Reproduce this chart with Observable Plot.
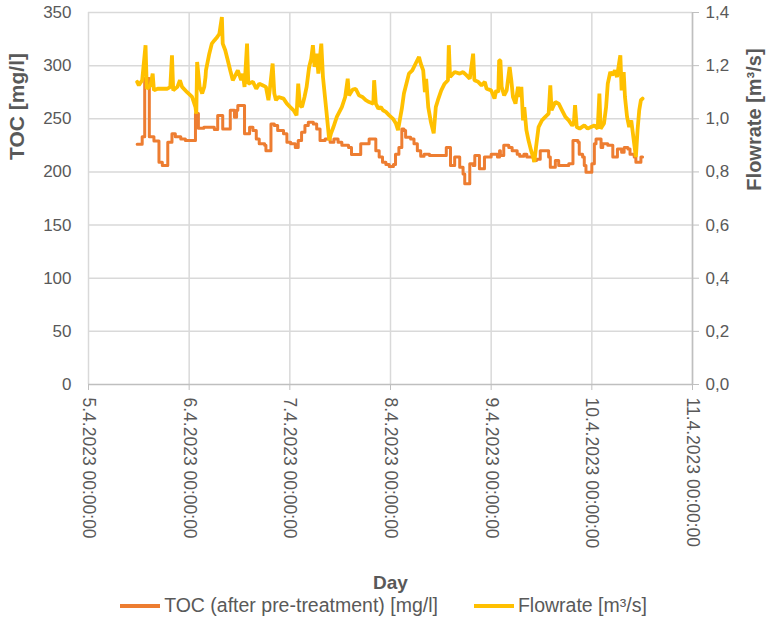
<!DOCTYPE html>
<html>
<head>
<meta charset="utf-8">
<script src="https://cdn.jsdelivr.net/npm/d3@7"></script>
<script src="https://cdn.jsdelivr.net/npm/@observablehq/plot@0.6"></script>
<style>
  html, body { margin: 0; padding: 0; background: #fff; }
  #chart { width: 767px; font-family: "Liberation Sans", Arial, sans-serif; }
  .legend { display: flex; justify-content: center; align-items: center; height: 31px; font-size: 19.5px; color: #595959; gap: 36px; margin-left: 0px; }
  .legend .item { display: flex; align-items: center; }
  .legend .sw { display: inline-block; width: 40px; height: 4px; margin-right: 4px; }
</style>
</head>
<body>
<div id="chart"></div>
<script>
// ---- Data (hours after 5.4.2023 00:00:00) ----
const tocHours = [11.6, 12.8, 13.4, 14.5, 15.6, 16.8, 17.6, 18.9, 19.9, 20.7, 22.0, 23.1, 25.5, 26.2, 27.5,
  29.5, 30.0, 30.8, 32.0, 33.8, 34.8, 35.3, 35.6, 37.2, 38.4, 39.2, 40.0, 40.7, 42.0, 42.3, 43.5, 44.3, 45.1,
  46.5, 47.3, 48.2, 49.3, 50.0, 50.8, 51.6, 52.4, 53.6, 54.4, 55.2, 56.4, 57.6, 58.5, 59.5, 60.4, 62.0, 62.7,
  64.9, 66.9, 68.5, 69.3, 70.1, 70.9, 71.7, 72.7, 73.2, 74.0, 74.7, 75.2, 75.6, 76.8, 77.6, 78.4, 79.2, 80.0,
  81.3, 85.3, 86.3, 87.3, 88.5, 89.3, 89.7, 90.9, 91.7, 92.1, 93.2, 94.4, 96.0, 97.5, 98.0, 98.2, 99.0, 100.2,
  101.0, 102.2, 102.8, 103.8, 104.5, 106.1, 106.8, 107.7, 109.7, 110.1, 111.3, 112.1, 114.5, 115.5, 116.7,
  117.0, 117.8, 118.2, 118.6, 120.0, 120.6, 121.0, 122.2, 122.6, 123.8, 125.0, 126.1, 127.1, 127.7, 128.6,
  129.1, 130.1, 130.5, 131.7, 132.1];
const tocValues = [226, 233, 288, 233, 229, 209, 206, 228, 236, 233, 231, 229.5, 255, 241, 242,
  242, 240, 253, 240.5, 258, 251.5, 258, 262.5, 236, 242, 239, 231, 226.4, 225, 220, 245, 243.7, 239,
  236, 228, 226.4, 223, 229.5, 237.4, 243.7, 246.8, 245, 240.5, 229.5, 231, 228, 231, 228, 225, 223, 216.5,
  226.4, 231, 220, 214, 209, 207, 205, 207, 216.7, 223, 240.5, 239, 232.7, 231, 226.4, 220, 214.8, 216.7,
  215.4, 223, 206, 214, 204.4, 198, 188.8, 207.6, 206, 215.4, 203, 214, 216.7, 214, 220, 215.4, 225, 223,
  220, 216.7, 214.8, 216.7, 214, 210.7, 212, 220, 214, 204.4, 210.7, 206, 207.6, 229.5, 228,
  216.7, 214, 206, 199.7, 207.6, 226.4, 231, 223, 226.4, 225, 214, 221.6, 218.5, 223, 221.6,
  216.7, 214, 209, 214, 214];

const flowHours = [11.6, 12.0, 12.8, 13.6, 13.9, 14.8, 15.3, 15.6, 16.5, 18.8, 19.5, 19.9, 20.2, 21.2, 21.8,
  22.3, 23.5, 24.7, 25.5, 25.7, 25.9, 26.5, 27.1, 27.6, 27.9, 28.0, 28.8, 29.4, 30.0, 30.7, 31.2, 31.8, 32.0,
  32.6, 33.2, 33.8, 34.4, 34.8, 35.6, 36.4, 36.8, 37.2, 37.8, 38.1, 39.2, 40.0, 40.7, 41.5, 42.3, 42.9, 43.2,
  43.9, 44.3, 44.7, 45.3, 46.5, 47.3, 48.1, 48.9, 49.6, 50.0, 50.4, 50.9, 51.5, 52.0, 52.6, 53.1, 53.5, 53.9,
  54.4, 54.8, 55.5, 55.9, 56.7, 57.4, 57.8, 58.4, 59.2, 60.4, 61.2, 61.8, 62.1, 63.0, 63.7, 64.5, 65.3, 66.1,
  66.9, 67.9, 68.1, 68.5, 69.1, 69.7, 70.2, 70.9, 71.7, 72.6, 73.3, 73.8, 74.2, 74.7, 75.2, 75.7, 76.4, 77.2,
  78.0, 78.8, 79.2, 79.8, 80.2, 80.5, 81.0, 81.6, 82.3, 82.8, 83.3, 84.1, 84.9, 85.7, 85.9, 86.2, 87.3, 88.5,
  89.3, 90.1, 90.9, 91.7, 92.0, 92.9, 93.7, 94.5, 94.9, 96.0, 96.8, 97.2, 97.7, 97.9, 98.2, 98.5, 99.1, 99.7,
  100.4, 100.8, 101.2, 101.8, 102.4, 102.8, 103.2, 103.6, 103.9, 104.4, 104.9, 105.5, 106.0, 106.3, 106.7,
  107.3, 108.1, 108.9, 109.7, 110.1, 110.4, 111.3, 112.1, 112.9, 113.7, 114.5, 115.3, 115.7, 116.0, 116.4,
  117.1, 118.2, 119.0, 119.8, 120.6, 121.4, 121.8, 122.1, 122.9, 123.4, 123.8, 124.4, 124.9, 125.5, 126.0,
  126.6, 126.8, 127.1, 127.6, 127.9, 128.4, 128.9, 129.4, 130.1, 130.5, 130.9, 131.3, 131.7, 132.1];
const flowValues = [1.139, 1.126, 1.145, 1.277, 1.113, 1.126, 1.17, 1.107, 1.113, 1.113, 1.12, 1.239, 1.107, 1.12, 1.145,
  1.12, 1.10, 1.082, 1.044, 1.019, 1.214, 1.12, 1.095, 1.12, 1.157, 1.182, 1.245, 1.283, 1.295, 1.308, 1.32, 1.383, 1.283,
  1.258, 1.22, 1.182, 1.145, 1.157, 1.182, 1.145, 1.17, 1.12, 1.283, 1.132, 1.139, 1.113, 1.132, 1.126, 1.12, 1.07, 1.107,
  1.208, 1.095, 1.07, 1.082, 1.076, 1.057, 1.044, 1.032, 1.013, 1.132, 1.051, 1.044, 1.082, 1.12, 1.195, 1.226, 1.277, 1.195,
  1.245, 1.17, 1.283, 1.157, 1.032, 0.919, 0.944, 0.969, 1.007, 1.044, 1.082, 1.151, 1.088, 1.11, 1.113, 1.088, 1.082, 1.07,
  1.063, 1.057, 1.145, 1.057, 1.038, 1.044, 1.032, 1.026, 1.013, 1.0, 0.982, 0.957, 0.994, 1.038, 1.095, 1.126, 1.17, 1.182,
  1.208, 1.233, 1.208, 1.182, 1.10, 1.15, 1.044, 0.99, 0.945, 1.044, 1.07, 1.107, 1.132, 1.145, 1.277, 1.157, 1.176, 1.17,
  1.176, 1.164, 1.151, 1.245, 1.145, 1.139, 1.126, 1.139, 1.113, 1.107, 1.076, 1.107, 1.10, 1.22, 1.22, 1.12, 1.088, 1.107,
  1.195, 1.145, 1.082, 1.057, 1.12, 1.082, 1.12, 0.994, 1.044, 0.957, 0.919, 0.881, 0.856, 0.837, 0.894,
  0.969, 0.994, 1.007, 1.019, 1.126, 1.032, 1.063, 1.057, 1.032, 1.007, 0.994, 0.975, 0.982, 1.051, 0.969,
  0.963, 0.975, 0.963, 0.969, 0.975, 0.963, 1.095, 0.963, 0.982, 1.044, 1.132, 1.176, 1.164, 1.182, 1.157,
  1.22, 1.239, 1.107, 1.176, 1.082, 1.007, 0.969, 0.994, 0.906, 0.856, 0.957, 1.032, 1.07, 1.076];

// ---- Axis ticks and labels ----
const tocTicks = [0, 50, 100, 150, 200, 250, 300, 350];
const flowTickLabels = ["0,0", "0,2", "0,4", "0,6", "0,8", "1,0", "1,2", "1,4"];
const dayTickLabels = ["5.4.2023 00:00:00", "6.4.2023 00:00:00", "7.4.2023 00:00:00", "8.4.2023 00:00:00",
  "9.4.2023 00:00:00", "10.4.2023 00:00:00", "11.4.2023 00:00:00"];
const dayOffsets = [0, 1, 2, 3, 4, 5, 6];

const seriesNames = ["TOC (after pre-treatment) [mg/l]", "Flowrate [m³/s]"];
const seriesColors = ["#ED7D31", "#FFC000"];

// ---- Build tables ----
const base = Date.UTC(2023, 3, 5);
const toDate = h => new Date(base + h * 3600e3);
const toc = tocHours.map((h, i) => ({date: toDate(h), value: tocValues[i]}));
const flow = flowHours.map((h, i) => ({date: toDate(h), value: flowValues[i]}));
const dayTicks = dayOffsets.map(d => new Date(base + d * 86400e3));
const flowToToc = 350 / 1.4; // right axis 0–1,4 shares the left axis 0–350 frame

const gray = "#595959";
const chart = Plot.plot({
  width: 767,
  height: 590,
  marginTop: 12,
  marginLeft: 88,
  marginRight: 75,
  marginBottom: 206,
  style: {fontFamily: "'Liberation Sans', Arial, sans-serif", overflow: "visible", background: "#fff"},
  x: {type: "utc", domain: [dayTicks[0], dayTicks[6]]},
  y: {domain: [0, 350]},
  marks: [
    Plot.gridY(tocTicks.slice(1), {stroke: "#d9d9d9", strokeOpacity: 1, strokeWidth: 1.5}),
    Plot.gridX(dayTicks, {stroke: "#d9d9d9", strokeOpacity: 1, strokeWidth: 1.5}),
    Plot.ruleY([0], {stroke: "#bfbfbf", strokeWidth: 1.5}),
    Plot.ruleX([dayTicks[6]], {stroke: "#bfbfbf", strokeWidth: 1.5}),
    Plot.axisY({anchor: "left", ticks: tocTicks, tickSize: 0, tickPadding: 17, label: null,
      fontSize: 17, fill: gray, tickFormat: d => String(d)}),
    Plot.axisY({anchor: "right", ticks: tocTicks, tickSize: 6, tickPadding: 7, label: null,
      fontSize: 17, fill: gray, stroke: "#bfbfbf", tickFormat: (d, i) => flowTickLabels[tocTicks.indexOf(d)]}),
    Plot.axisX({ticks: dayTicks, tickSize: 6, tickPadding: 7, tickRotate: 90, label: null,
      fontSize: 17.5, fill: gray, stroke: "#bfbfbf",
      tickFormat: d => dayTickLabels[dayTicks.findIndex(t => +t === +d)]}),
    Plot.line(toc, {x: "date", y: "value", stroke: seriesColors[0], strokeWidth: 3, curve: "step-after"}),
    Plot.line(flow, {x: "date", y: d => d.value * flowToToc, stroke: seriesColors[1], strokeWidth: 3.8,
      strokeLinejoin: "miter"}),
    Plot.text(["TOC [mg/l]"], {frameAnchor: "top-left", dx: -71, dy: 94, rotate: -90, fontSize: 21,
      textAnchor: "middle", lineAnchor: "middle", fontWeight: "bold", fill: gray}),
    Plot.text(["Flowrate [m³/s]"], {frameAnchor: "top-right", dx: 62, dy: 107, rotate: -90, fontSize: 20,
      textAnchor: "middle", lineAnchor: "middle", fontWeight: "bold", fill: gray}),
    Plot.text(["Day"], {frameAnchor: "bottom", dy: 198, fontSize: 19, lineAnchor: "middle",
      fontWeight: "bold", fill: gray})
  ]
});
const root = document.getElementById("chart");
root.appendChild(chart);

const legend = document.createElement("div");
legend.className = "legend";
seriesNames.forEach((name, i) => {
  const item = document.createElement("div");
  item.className = "item";
  const sw = document.createElement("span");
  sw.className = "sw";
  sw.style.background = seriesColors[i];
  const label = document.createElement("span");
  label.textContent = name;
  item.appendChild(sw);
  item.appendChild(label);
  legend.appendChild(item);
});
root.appendChild(legend);
</script>
</body>
</html>
